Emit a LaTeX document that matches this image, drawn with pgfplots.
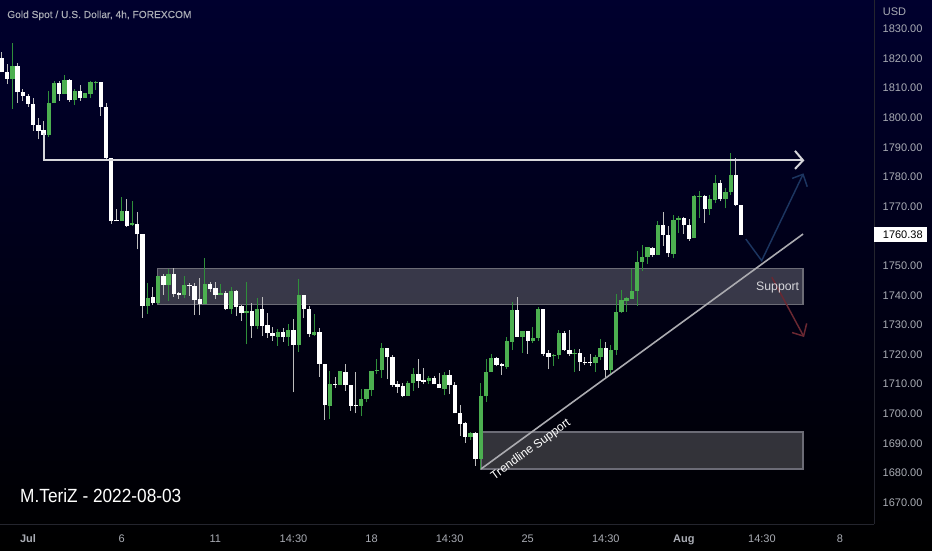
\documentclass[border=0pt]{standalone}
\usepackage{fontspec}
\setmainfont{Liberation Sans}
\usepackage{pgfplots}
\usepackage{pgfplotstable}
\pgfplotsset{compat=1.18}
\definecolor{cgreen}{HTML}{4CAF50}
\definecolor{gwick}{HTML}{2F8F3A}
\definecolor{wwick}{HTML}{BDBDBD}
\definecolor{lab}{HTML}{A9ACB4}
\definecolor{sep}{HTML}{24252E}
\definecolor{bgtop}{HTML}{00002E}
\definecolor{bgmid}{HTML}{000012}
\definecolor{boxline}{HTML}{6C6C76}
\definecolor{ln}{HTML}{D6D6DA}
\definecolor{tl}{HTML}{ABABB0}
\definecolor{barrow}{HTML}{1C3560}
\definecolor{rarrow}{HTML}{6A2832}
\pgfplotstableread{
x h t b l
0 1822.2 1820.1 1815.4 1815.4
1 1818.1 1815.6 1813.1 1811.4
3 1818.4 1817.5 1808.6 1805.1
4 1809.8 1808.7 1807.4 1805.8
5 1807.9 1807.5 1804.7 1803.8
6 1806.6 1804.8 1797.6 1795.5
7 1800.0 1797.7 1795.6 1792.7
8 1798.8 1795.8 1794.3 1792.5
11 1812.4 1811.6 1808.1 1805.8
13 1813.2 1812.9 1805.9 1805.4
15 1811.2 1808.9 1806.7 1805.8
19 1812.2 1812.0 1803.6 1800.6
20 1804.9 1803.6 1786.3 1785.7
21 1786.4 1786.4 1765.1 1764.1
22 1769.2 1765.5 1765.0 1765.0
24 1772.7 1768.6 1763.5 1763.2
26 1768.2 1764.2 1760.6 1755.5
27 1760.7 1760.6 1736.4 1732.4
29 1742.7 1739.3 1737.4 1736.8
31 1747.1 1746.5 1743.5 1740.1
33 1749.1 1747.2 1740.4 1739.5
34 1741.2 1740.7 1740.1 1738.8
36 1744.0 1743.5 1743.1 1739.8
37 1744.0 1743.3 1738.5 1733.5
38 1745.9 1738.6 1737.0 1733.2
40 1744.4 1743.9 1742.2 1741.2
41 1744.6 1742.4 1740.1 1738.6
43 1741.5 1740.7 1735.3 1735.0
45 1741.8 1741.5 1736.2 1733.0
46 1736.7 1736.3 1734.0 1731.4
48 1737.3 1734.8 1729.5 1725.7
50 1739.5 1735.2 1729.7 1726.4
51 1733.9 1729.9 1727.3 1725.6
52 1729.4 1727.3 1726.1 1724.6
54 1728.8 1727.6 1725.8 1724.3
56 1732.0 1728.3 1723.3 1707.2
58 1740.0 1740.0 1735.5 1732.2
59 1736.5 1735.5 1726.9 1725.8
61 1728.8 1727.7 1716.8 1712.4
62 1716.9 1716.8 1702.8 1697.9
64 1712.5 1710.1 1709.7 1708.8
66 1716.8 1714.2 1709.7 1707.8
67 1709.7 1709.7 1702.7 1700.9
68 1714.2 1702.9 1702.5 1700.1
74 1722.3 1722.3 1719.2 1711.6
75 1719.8 1719.2 1709.8 1709.1
76 1711.0 1709.9 1709.1 1706.9
77 1710.3 1709.2 1706.0 1705.5
80 1718.6 1713.4 1711.0 1708.7
81 1715.4 1711.4 1710.7 1709.9
83 1712.8 1711.9 1709.9 1709.9
84 1713.6 1710.0 1708.6 1708.6
86 1714.8 1713.1 1709.7 1706.5
87 1710.6 1709.7 1700.1 1700.1
88 1702.9 1700.1 1696.5 1692.6
89 1697.3 1696.7 1692.1 1690.2
91 1693.9 1693.4 1684.6 1682.4
95 1719.3 1718.8 1716.4 1716.0
96 1717.2 1716.8 1716.1 1713.1
99 1739.3 1734.9 1726.0 1726.0
101 1727.9 1727.9 1724.7 1720.2
104 1735.4 1735.4 1720.3 1719.5
105 1721.5 1720.5 1719.3 1715.0
108 1727.9 1727.4 1721.5 1721.3
109 1728.2 1721.5 1720.2 1719.5
111 1722.0 1720.5 1717.5 1714.5
112 1719.2 1717.4 1717.0 1716.4
113 1720.3 1717.4 1717.0 1716.2
116 1724.2 1722.3 1714.6 1711.9
125 1756.4 1756.1 1753.6 1753.1
127 1768.0 1763.8 1760.4 1756.8
128 1763.4 1760.4 1754.2 1753.1
131 1766.4 1766.2 1763.8 1760.7
132 1765.7 1763.8 1759.0 1758.5
135 1773.9 1773.7 1769.2 1764.4
138 1778.8 1777.9 1772.4 1771.7
141 1786.3 1780.8 1770.5 1770.3
142 1770.5 1770.5 1760.38 1760.38
}\whitecandles
\pgfplotstableread{
x h t b l
2 1825.2 1817.5 1813.0 1803.0
9 1809.1 1805.1 1794.2 1793.6
10 1812.4 1811.6 1805.0 1805.0
12 1814.5 1812.8 1808.1 1808.1
14 1809.6 1809.1 1805.9 1804.3
16 1808.3 1808.3 1806.8 1806.8
17 1812.3 1812.0 1808.1 1806.7
18 1812.4 1812.1 1811.9 1809.3
23 1773.1 1768.6 1765.1 1765.1
25 1772.0 1764.3 1763.6 1763.5
28 1744.0 1739.2 1736.4 1733.7
30 1746.5 1746.5 1737.5 1737.1
32 1748.9 1747.2 1743.5 1738.2
35 1746.6 1743.5 1740.1 1739.1
39 1752.5 1743.8 1737.0 1737.0
42 1743.8 1740.7 1740.1 1740.1
44 1742.7 1741.5 1735.3 1733.8
47 1744.5 1734.8 1734.0 1723.4
49 1739.2 1735.2 1729.5 1728.5
53 1728.5 1727.5 1726.0 1722.9
55 1730.3 1728.3 1725.8 1722.9
57 1745.5 1740.0 1723.3 1721.0
60 1733.7 1727.7 1726.7 1726.3
63 1714.5 1710.1 1702.7 1698.3
65 1714.3 1714.3 1709.6 1709.6
69 1708.4 1705.0 1702.7 1699.2
70 1708.2 1708.2 1705.0 1703.8
71 1714.5 1714.5 1708.1 1706.1
72 1718.5 1714.8 1714.5 1713.4
73 1723.9 1722.3 1714.6 1712.1
78 1711.0 1710.3 1706.1 1706.1
79 1715.3 1713.4 1710.3 1707.7
82 1712.7 1711.9 1711.0 1710.0
85 1714.2 1713.1 1708.4 1706.2
90 1693.9 1693.6 1692.1 1691.1
92 1710.5 1706.0 1684.6 1681.2
93 1718.6 1714.1 1705.9 1704.1
94 1720.2 1718.8 1714.0 1714.0
97 1725.8 1724.6 1715.9 1715.2
98 1737.7 1734.9 1724.3 1721.5
100 1727.9 1727.9 1725.9 1720.6
102 1729.2 1725.6 1724.7 1724.0
103 1736.2 1735.3 1725.5 1724.7
106 1720.2 1719.9 1719.5 1716.2
107 1728.3 1727.4 1719.8 1718.4
110 1721.9 1720.4 1720.2 1714.0
114 1719.8 1719.2 1717.2 1714.1
115 1725.1 1722.2 1719.0 1718.1
117 1723.2 1721.6 1714.6 1713.1
118 1740.3 1734.4 1721.6 1719.8
119 1741.8 1738.3 1734.2 1734.1
120 1739.5 1739.0 1738.2 1734.5
121 1748.8 1741.6 1738.8 1738.6
122 1755.0 1751.4 1741.6 1736.4
123 1756.9 1753.1 1751.2 1748.1
124 1756.2 1756.2 1752.8 1750.6
126 1765.1 1763.8 1753.6 1753.6
129 1767.1 1765.5 1754.0 1752.5
130 1766.8 1766.2 1765.5 1761.0
133 1773.9 1773.6 1759.3 1759.2
134 1775.3 1773.6 1773.3 1766.0
136 1773.9 1772.4 1769.2 1767.1
137 1780.7 1777.9 1772.2 1771.3
139 1776.4 1774.8 1772.6 1769.4
140 1788.2 1780.8 1774.8 1773.9
}\greencandles
\pgfplotsset{
  wick/.style n args={2}{draw=none,mark=none,forget plot,
    error bars/.cd,y dir=plus,y explicit,error mark=none,
    error bar style={solid,color=#1,line width=#2}}
}
\newfontfamily\titlefont[FakeBold=0.25]{Liberation Sans}
\newfontfamily\signfont[FakeStretch=0.905]{Liberation Sans}
\begin{document}
\begin{tikzpicture}
\useasboundingbox (0,0) rectangle (699pt,412.5pt);
\shade[top color=bgtop,middle color=bgmid,bottom color=black] (0,0) rectangle (699pt,412.5pt);
\begin{axis}[
  at={(0pt,412.5pt)},anchor=north west,
  scale only axis,width=655.5pt,height=393pt,
  xmin=-0.384,xmax=167.53,ymin=1662.7,ymax=1839.8,
  axis x line=bottom,axis y line=right,
  axis line style={sep,line width=0.75pt,-},
  clip mode=individual,
  major tick length=0pt,
  xtick={5,23,41,56,71,86,101,116,131,146,161},
  xticklabels={\textbf{Jul},6,11,14:30,18,14:30,25,14:30,\textbf{Aug},14:30,8},
  ytick={1670,1680,...,1830},
  /pgf/number format/assume math mode=true,
  yticklabel={\pgfmathprintnumber[fixed,fixed zerofill,precision=2,1000 sep={}]{\tick}},
  tick label style={color=lab,font=\fontsize{8.25pt}{10pt}\selectfont},
  yticklabel style={anchor=west,xshift=3pt},
  xticklabel style={anchor=north,yshift=-4.7pt},
]
% zones
\addplot[fill=white,fill opacity=0.22,draw=boxline,line width=0.9pt] coordinates {(29.84,1749.1)(153.9,1749.1)(153.9,1737.0)(29.84,1737.0)} --cycle;
\addplot[fill=white,fill opacity=0.2,draw=boxline,line width=0.9pt] coordinates {(92.03,1693.8)(153.9,1693.8)(153.9,1681.3)(92.03,1681.3)} --cycle;
% wicks
\addplot[wick={wwick}{0.75pt}] table[x=x,y=l,y error plus expr=\thisrow{h}-\thisrow{l}] {\whitecandles};
\addplot[wick={gwick}{0.75pt}] table[x=x,y=l,y error plus expr=\thisrow{h}-\thisrow{l}] {\greencandles};
% bodies
\addplot[wick={white}{3.25pt}] table[x=x,y=b,y error plus expr=\thisrow{t}-\thisrow{b}] {\whitecandles};
\addplot[wick={cgreen}{3.25pt}] table[x=x,y=b,y error plus expr=\thisrow{t}-\thisrow{b}] {\greencandles};
% drawn lines
\addplot[ln,line width=1.5pt] coordinates {(8,1794.9)(8,1785.6)(153.9,1785.6)};
\addplot[ln,line width=1.5pt] coordinates {(152.35,1788.8)(153.9,1785.6)(152.35,1782.7)};
\addplot[tl,line width=1.2pt] coordinates {(92.03,1681.3)(153.9,1760.7)};
\addplot[barrow,line width=1.1pt] coordinates {(142.9,1759.0)(145.95,1751.7)(153.9,1780.9)};
\addplot[barrow,line width=1.1pt] coordinates {(151.8,1779.5)(153.9,1780.9)(154.7,1776.7)};
\addplot[rarrow,line width=1.1pt] coordinates {(147.9,1746.1)(154.0,1726.2)};
\addplot[rarrow,line width=1.1pt] coordinates {(151.8,1727.4)(154.0,1726.2)(154.6,1730.5)};
% texts
\node[anchor=east,inner sep=0pt,text=ln,font=\fontsize{9.2pt}{11pt}\selectfont] at (axis cs:153.2,1742.6) {Support};
\node[rotate=36,inner sep=0pt,text=white,font=\fontsize{9pt}{11pt}\selectfont] at (axis cs:101.6,1687.8) {Trendline Support};
\node[anchor=west,inner sep=0pt,text=white,font=\signfont\fontsize{14.3pt}{17pt}\selectfont] at (axis cs:3.45,1672.3) {M.TeriZ - 2022-08-03};
\node[anchor=west,inner sep=0pt,text=lab,font=\titlefont\fontsize{7.65pt}{10pt}\selectfont] at (axis cs:0.96,1834.6) {Gold Spot / U.S. Dollar, 4h, FOREXCOM};
\node[anchor=west,inner sep=0pt,text=lab,font=\fontsize{8.25pt}{10pt}\selectfont] at (axis cs:169.2,1835.9) {USD};
\node[anchor=west,fill=white,text=black,inner sep=0pt,minimum width=39.75pt,minimum height=11.25pt,font=\fontsize{8.25pt}{10pt}\selectfont] at (axis cs:167.53,1760.38) {\hspace{3pt}1760.38};
\end{axis}
\end{tikzpicture}
\end{document}
